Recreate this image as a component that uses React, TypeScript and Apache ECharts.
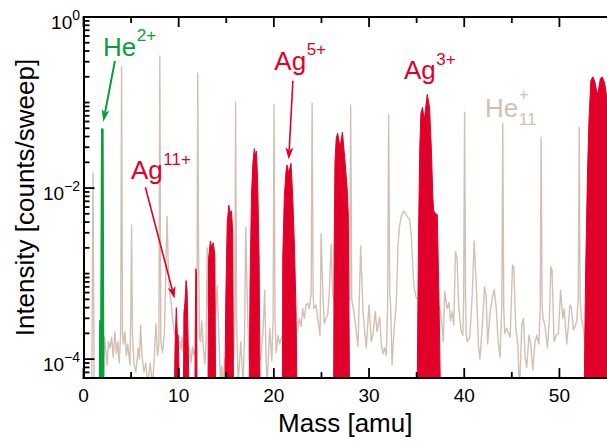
import React, { useEffect, useRef } from "react";
import * as echarts from "echarts";

// ---------------- data ----------------
const X_MIN = 0;
const X_MAX = 55;
const Y_MIN = 6e-5;
const Y_MAX = 1;

const xMajorTicks = [0, 10, 20, 30, 40, 50];
const xMinorTicks = [5, 15, 25, 35, 45];
const yLabelValues = [1e-4, 1e-2, 1];
const yMinorTicks = [
  7e-5, 8e-5, 9e-5,
  2e-4, 3e-4, 4e-4, 5e-4, 6e-4, 7e-4, 8e-4, 9e-4, 1e-3,
  2e-3, 3e-3, 4e-3, 5e-3, 6e-3, 7e-3, 8e-3, 9e-3,
  2e-2, 3e-2, 4e-2, 5e-2, 6e-2, 7e-2, 8e-2, 9e-2, 1e-1,
  2e-1, 3e-1, 4e-1, 5e-1, 6e-1, 7e-1, 8e-1, 9e-1,
];

// background (He clusters + residual gas), [mass, intensity]
const bg0to10 = [
  [0.86, 4e-5], [1.0, 0.015], [1.12, 4e-5], [1.9, 4e-5], [2.1, 6e-5], [2.22, 1.8e-4], [2.36, 1.2e-4],
  [2.5, 8.5e-5], [2.62, 1.6e-4], [2.78, 1.35e-4], [2.96, 1.8e-4], [3.12, 1.05e-4], [3.3, 2.1e-4],
  [3.45, 1.15e-4], [3.6, 1.6e-4], [3.75, 9e-5], [3.9, 1.9e-4], [4.0, 0.26], [4.1, 2e-4], [4.2, 1.5e-4],
  [4.35, 2.1e-4], [4.5, 1.1e-4], [4.65, 1.5e-4], [4.88, 8.5e-5], [4.96, 3e-4], [5.05, 0.0037],
  [5.14, 2e-4], [5.3, 9e-5], [5.5, 7e-5], [5.75, 1.35e-4], [5.88, 1e-4], [6.0, 2.5e-4], [6.15, 1.1e-4],
  [6.35, 7e-5], [6.55, 9e-5], [6.75, 5e-5], [7.0, 9e-5], [7.25, 5e-5], [7.45, 1.1e-4], [7.61, 2.6e-4],
  [7.78, 1.1e-4], [7.92, 1.5e-4], [8.02, 0.35], [8.12, 1.6e-4], [8.3, 1.2e-4], [8.5, 2e-4],
  [8.68, 1.5e-3], [8.78, 0.0047], [8.9, 1.3e-3], [9.05, 6e-4], [9.2, 4.7e-4], [9.35, 3e-4],
  [9.5, 2.2e-4], [9.7, 1.8e-4], [9.9, 1.5e-4],
];
const bg10to20 = [
  [10.1, 1.6e-4], [10.25, 1.3e-4], [10.35, 1.8e-4], [10.5, 1.2e-4], [10.8, 1.5e-4], [11.15, 1.3e-4],
  [11.3, 9e-5], [11.45, 1.4e-4], [11.6, 1.1e-4], [11.85, 1.5e-4], [11.93, 1e-3], [12.0, 0.22],
  [12.1, 1.2e-3], [12.2, 1.8e-4], [12.3, 1.6e-4], [12.43, 2.8e-4], [12.6, 1.3e-4], [12.75, 8.7e-5],
  [12.87, 1.5e-4], [13.0, 2.0e-3], [13.1, 4e-4], [13.5, 3e-4], [13.9, 3.5e-4], [14.04, 7.3e-4],
  [14.25, 1.5e-4], [14.4, 5e-5], [14.53, 8.3e-5], [14.65, 5e-5], [14.85, 1e-4], [15.3, 1.2e-4],
  [15.8, 1.1e-4], [15.9, 3e-4], [15.98, 0.1], [16.08, 3e-4], [16.25, 5e-5], [16.53, 1.6e-4],
  [16.77, 5e-5], [16.92, 2e-4], [17.05, 3.5e-3], [17.23, 3.6e-4], [17.4, 1e-4], [18.0, 1e-4],
  [18.6, 1e-4], [18.85, 2e-4], [19.04, 6.4e-4], [19.18, 1e-4], [19.29, 5e-5], [19.45, 1.2e-4],
  [19.57, 2.3e-4], [19.78, 9.5e-5], [19.92, 3e-4], [20.02, 0.095], [20.12, 3e-4], [20.25, 1.2e-4],
  [20.44, 1.9e-4], [20.6, 1.5e-4], [20.8, 1.8e-4],
];
const bg20to30 = [
  [21.0, 2e-4], [22.0, 2e-4], [22.5, 2.2e-4], [22.68, 3e-4], [22.86, 2.4e-4], [23.03, 3.9e-4],
  [23.2, 3e-4], [23.37, 4.3e-4], [23.56, 4.5e-4], [23.73, 3.9e-4], [23.92, 6e-4], [24.02, 0.098],
  [24.12, 6e-4], [24.19, 3.9e-4], [24.43, 4.3e-4], [24.6, 3e-4], [24.85, 1.9e-4], [24.96, 2.9e-3],
  [25.13, 6.8e-4], [25.3, 2.6e-4], [25.48, 3e-4], [25.66, 3.3e-4], [25.83, 6.2e-4], [26.02, 2.2e-3],
  [26.18, 5.6e-4], [26.5, 4e-4], [27.5, 4e-4], [27.96, 5e-4], [28.07, 0.093], [28.18, 5e-4],
  [28.38, 3.7e-4], [28.66, 2.1e-4], [28.84, 1.4e-4], [29.12, 2.1e-3], [29.36, 3.7e-4], [29.55, 2e-4],
  [29.71, 1.35e-4], [29.99, 4.3e-4],
];
const bg30to40 = [
  [30.24, 1.6e-4], [30.41, 1.95e-4], [30.66, 3.6e-4], [30.83, 2.1e-4], [31.11, 3.1e-4], [31.29, 1.5e-4],
  [31.46, 1.15e-4], [31.64, 1.35e-4], [31.81, 1.1e-4], [31.95, 4e-4], [32.06, 0.072], [32.17, 6e-4],
  [32.27, 4.3e-4], [32.42, 8.5e-5], [32.62, 2.1e-4], [32.87, 4.7e-4], [33.04, 2.1e-3], [33.2, 3.6e-3],
  [33.39, 4.7e-3], [33.63, 5.4e-3], [33.8, 5.1e-3], [33.98, 4.7e-3], [34.26, 4.3e-3], [34.44, 2.8e-3],
  [34.6, 1.2e-3], [34.71, 7.2e-4], [34.89, 5.6e-4], [35.0, 5.1e-4], [36.0, 5e-4], [37.4, 4e-4],
  [37.5, 3.6e-4], [37.65, 2.6e-4], [37.8, 1.6e-4], [37.95, 6.2e-4], [38.2, 3.9e-4], [38.39, 4.6e-4],
  [38.56, 2.8e-4], [38.74, 3.6e-4], [38.9, 2.5e-4], [39.08, 1.8e-3], [39.24, 1.5e-3], [39.43, 4e-4],
  [39.65, 2.2e-4], [39.85, 1.9e-4], [39.94, 5e-4],
];
const bg40to55 = [
  [40.04, 0.077], [40.14, 5e-4], [40.2, 2e-4], [40.32, 1.6e-4], [40.58, 1.8e-4], [40.84, 5.6e-4],
  [41.04, 2.4e-3], [41.3, 6e-4], [41.5, 1.4e-4], [41.65, 1e-4], [41.95, 3e-4], [42.13, 7e-4],
  [42.3, 5.6e-4], [42.46, 1.5e-4], [42.68, 3.2e-4], [42.92, 5e-4], [43.15, 6.5e-4], [43.36, 4e-4],
  [43.57, 1.6e-4], [43.76, 1.05e-4], [43.95, 4e-4], [44.05, 0.057], [44.15, 4e-4], [44.25, 2e-4],
  [44.47, 2.3e-4], [44.65, 2e-4], [44.83, 1.8e-4], [45.07, 1.25e-3], [45.2, 1.2e-3], [45.42, 2.3e-4],
  [45.63, 1.5e-4], [45.8, 4e-5], [46.05, 2.5e-4], [46.22, 3e-4], [46.4, 1.05e-4], [46.57, 8e-5],
  [46.8, 1.9e-4], [46.99, 1.5e-4], [47.2, 7.5e-5], [47.45, 1.6e-4], [47.62, 1.9e-4], [47.85, 1.5e-4],
  [47.98, 4e-4], [48.08, 0.039], [48.18, 4e-4], [48.3, 3e-4], [48.5, 2.4e-4], [48.74, 1.35e-4],
  [48.95, 3e-4], [49.1, 1.2e-3], [49.22, 1.1e-3], [49.44, 1.6e-4], [49.66, 1.9e-4], [49.9, 2e-4],
  [50.12, 6.4e-4], [50.35, 3e-4], [50.5, 3.9e-4], [50.77, 1.5e-4], [50.95, 2.5e-4], [51.1, 4.3e-4],
  [51.25, 4e-4], [51.47, 2.2e-4], [51.65, 2.4e-4], [51.82, 2.8e-4], [51.98, 5e-4], [52.08, 0.051],
  [52.18, 5e-4], [52.3, 3e-4], [52.52, 2.3e-4], [52.7, 1.5e-4], [53.5, 1.5e-4], [55, 1.5e-4],
];

// He2+
const he2 = [[1.68, 4e-5], [1.72, 2.8e-4], [1.83, 2.9e-4], [1.92, 0.049], [2.04, 0.049], [2.12, 4e-5]];

// Ag charge states (107Ag / 109Ag doublets)
const ag11 = [[9.55, 4e-5], [9.62, 1.5e-4], [9.75, 4e-4], [9.85, 2e-4], [9.95, 1.9e-4], [10.03, 8e-5], [10.1, 4e-5]];
const ag10 = [[10.5, 4e-5], [10.55, 3.5e-4], [10.65, 4.5e-4], [10.78, 8.3e-4], [10.88, 6.5e-4], [10.98, 2e-4], [11.08, 4e-5]];
const ag9 = [[11.7, 4e-5], [11.74, 2e-4], [11.8, 1.14e-3], [11.87, 1.0e-3], [11.93, 4e-5]];
const ag8 = [[13.08, 4e-5], [13.14, 1.5e-3], [13.33, 2.4e-3], [13.47, 2.0e-3], [13.62, 2.3e-3], [13.8, 1.7e-3], [13.88, 4e-5]];
const ag7 = [[14.85, 4e-5], [14.95, 5e-4], [15.1, 4e-3], [15.27, 6.3e-3], [15.4, 5.2e-3], [15.55, 5.4e-3], [15.68, 3e-3], [15.76, 4e-5]];
const ag6 = [[17.4, 4e-5], [17.5, 8e-4], [17.65, 0.0085], [17.8, 0.02], [17.95, 0.029], [18.07, 0.024], [18.17, 0.027], [18.3, 0.012], [18.45, 1.5e-3], [18.55, 4e-5]];
const ag5 = [[20.9, 4e-5], [20.93, 1.5e-3], [21.1, 8e-3], [21.28, 0.016], [21.39, 0.0186], [21.56, 0.015], [21.8, 0.0195], [21.98, 0.008], [22.16, 2.1e-3], [22.33, 3.6e-4], [22.43, 4e-5]];
const ag4 = [[26.28, 4e-5], [26.33, 2e-3], [26.42, 0.02], [26.55, 0.038], [26.7, 0.044], [26.95, 0.03], [27.2, 0.045], [27.44, 0.023], [27.7, 0.01], [27.82, 5e-3], [27.95, 4e-5]];
const ag3 = [[35.05, 4e-5], [35.2, 3e-3], [35.33, 0.03], [35.45, 0.075], [35.62, 0.088], [35.8, 0.062], [36.12, 0.125], [36.36, 0.087], [36.54, 0.03], [36.7, 0.008], [36.78, 5.5e-3], [36.98, 5e-3], [37.17, 4.9e-3], [37.34, 5.6e-4], [37.5, 4e-5]];
const ag2 = [[52.6, 4e-5], [52.75, 1e-3], [52.95, 0.015], [53.1, 0.06], [53.3, 0.18], [53.5, 0.2], [53.7, 0.18], [53.95, 0.13], [54.05, 0.13], [54.3, 0.19], [54.5, 0.2], [54.75, 0.17], [55.0, 0.11]];

// ---------------- styles ----------------
const FONT = '"Liberation Sans", Arial, Helvetica, sans-serif';
const RED = "#e1002a";
const GREEN = "#0a9e3c";
const TAN = "#d3c0b2";

const annotations = [
  { base: "He", sup: "2+", sub: "", at: [2.05, 0.351], color: GREEN },
  { base: "Ag", sup: "11+", sub: "", at: [4.99, 0.01273], color: RED },
  { base: "Ag", sup: "5+", sub: "", at: [20.05, 0.243], color: RED },
  { base: "Ag", sup: "3+", sub: "", at: [33.67, 0.1864], color: RED },
  { base: "He", sup: "+", sub: "11", at: [42.18, 0.0676], color: TAN },
];
const arrows = [
  { from: [3.3, 0.306], to: [2.08, 0.0598], color: GREEN, width: 2 },
  { from: [6.5, 0.0102], to: [9.57, 5.1e-4], color: RED, width: 1.6 },
  { from: [22.0, 0.18], to: [21.56, 0.0216], color: RED, width: 1.6 },
];

const MAJOR_LEN = 10;
const MINOR_LEN = 6;

export default function App() {
  const ref = useRef<HTMLDivElement>(null);

  useEffect(() => {
    if (!ref.current) return;
    const chart = echarts.init(ref.current, null, { renderer: "svg" });

    const axisLineStyle = { color: "#000", width: 2 };
    const agPeaks = [ag11, ag10, ag9, ag8, ag7, ag6, ag5, ag4, ag3, ag2];

    const option: any = {
      animation: false,
      backgroundColor: "#fff",
      grid: { left: 83.5, right: 0, top: 17, bottom: 57.5, containLabel: false },
      xAxis: [
        {
          type: "value",
          min: X_MIN,
          max: X_MAX,
          position: "bottom",
          splitLine: { show: false },
          axisLine: { show: true, onZero: false, lineStyle: axisLineStyle },
          axisTick: { show: false },
          axisLabel: { show: true, customValues: xMajorTicks, fontSize: 19, color: "#000", fontFamily: FONT, margin: 8 },
          name: "Mass [amu]",
          nameLocation: "middle",
          nameGap: 28,
          nameTextStyle: { fontSize: 26, fontFamily: FONT, color: "#000" },
          z: 5,
        },
        {
          type: "value",
          min: X_MIN,
          max: X_MAX,
          position: "top",
          splitLine: { show: false },
          axisLine: { show: true, onZero: false, lineStyle: axisLineStyle },
          axisTick: { show: false },
          axisLabel: { show: false },
          z: 5,
        },
      ],
      yAxis: [
        {
          type: "log",
          logBase: 10,
          min: Y_MIN,
          max: Y_MAX,
          position: "left",
          splitLine: { show: false },
          axisLine: { show: true, onZero: false, lineStyle: axisLineStyle },
          axisTick: { show: false },
          axisLabel: {
            show: true,
            customValues: yLabelValues,
            margin: 3.5,
            formatter: (v: number) => {
              const e = Math.round(Math.log10(v));
              return `{b|10}{s|${e < 0 ? "\u2212" + -e : e}}`;
            },
            rich: {
              b: { fontSize: 19, fontFamily: FONT, color: "#000", lineHeight: 30, verticalAlign: "bottom" },
              s: { fontSize: 14, fontFamily: FONT, color: "#000", lineHeight: 14, verticalAlign: "top", padding: [5.5, 0, 0, 0] },
            },
          },
          name: "Intensity [counts/sweep]",
          nameLocation: "middle",
          nameGap: 46,
          nameMoveOverlap: false,
          nameTextStyle: { fontSize: 26, fontFamily: FONT, color: "#000" },
          z: 5,
        },
      ],
      series: [
        {
          type: "line",
          data: [...bg0to10, ...bg10to20, ...bg20to30, ...bg30to40, ...bg40to55],
          showSymbol: false,
          symbol: "none",
          lineStyle: { color: TAN, width: 1.4, join: "round" },
          clip: true,
          silent: true,
          z: 2,
        },
        ...agPeaks.map((d) => ({
          type: "line",
          data: d,
          showSymbol: false,
          symbol: "none",
          lineStyle: { color: RED, width: 1 },
          areaStyle: { color: RED, opacity: 1, origin: "start" },
          clip: true,
          silent: true,
          z: 3,
        })),
        {
          type: "line",
          data: he2,
          showSymbol: false,
          symbol: "none",
          lineStyle: { color: GREEN, width: 1.5 },
          areaStyle: { color: GREEN, opacity: 1, origin: "start" },
          clip: true,
          silent: true,
          z: 3,
        },
      ],
    };

    chart.setOption(option);

    const toPx = (p: number[]) =>
      chart.convertToPixel({ xAxisIndex: 0, yAxisIndex: 0 } as any, p) as unknown as number[];

    const graphic: any[] = [];

    // ---- tick marks, positioned through the axes' scales ----
    const [gLeft, gBottom] = toPx([X_MIN, Y_MIN]);
    const [, gTop] = toPx([X_MIN, Y_MAX]);
    const tickLine = (x1: number, y1: number, x2: number, y2: number) => ({
      type: "line",
      silent: true,
      z: 90,
      shape: { x1, y1, x2, y2 },
      style: { stroke: "#000", lineWidth: 1.8 },
    });
    const xTick = (v: number, len: number) => {
      const x = toPx([v, Y_MAX])[0];
      graphic.push(tickLine(x, gBottom, x, gBottom - len));
      graphic.push(tickLine(x, gTop, x, gTop + len));
    };
    xMajorTicks.forEach((v) => xTick(v, MAJOR_LEN));
    xMinorTicks.forEach((v) => xTick(v, MINOR_LEN));
    const yTick = (v: number, len: number) => {
      const y = toPx([X_MIN, v])[1];
      graphic.push(tickLine(gLeft, y, gLeft + len, y));
    };
    yLabelValues.forEach((v) => yTick(v, MAJOR_LEN + 1));
    yMinorTicks.forEach((v) => yTick(v, MINOR_LEN));

    // ---- annotations ----
    const ctx = document.createElement("canvas").getContext("2d")!;
    const measure = (t: string, size: number) => {
      ctx.font = `${size}px ${FONT}`;
      return ctx.measureText(t).width;
    };

    const BASE = 26;
    const SUP = 17;
    const txt = (text: string, x: number, baseline: number, size: number, color: string) => ({
      type: "text",
      silent: true,
      z: 100,
      style: {
        text,
        x,
        y: baseline - 0.3465 * size,
        fill: color,
        fontSize: size,
        fontFamily: FONT,
        align: "left",
        textAlign: "left",
        verticalAlign: "middle",
        textVerticalAlign: "middle",
      },
    });

    annotations.forEach((a) => {
      const [x, y] = toPx(a.at);
      graphic.push(txt(a.base, x, y, BASE, a.color));
      const sx = x + measure(a.base, BASE) + 0.5;
      if (a.sub) {
        graphic.push(txt(a.sup, sx, y - 16.7, SUP, a.color));
        graphic.push(txt(a.sub, sx, y + 8.6, SUP, a.color));
      } else {
        graphic.push(txt(a.sup, sx, y - 14, SUP, a.color));
      }
    });

    arrows.forEach((ar) => {
      const a = toPx(ar.from);
      const b = toPx(ar.to);
      const dx = b[0] - a[0];
      const dy = b[1] - a[1];
      const L = Math.hypot(dx, dy);
      const ux = dx / L;
      const uy = dy / L;
      const headLen = 12;
      const headHalf = 4;
      const notch = 3;
      const nx = -uy;
      const ny = ux;
      const back = [b[0] - ux * headLen, b[1] - uy * headLen];
      const left = [back[0] + nx * headHalf, back[1] + ny * headHalf];
      const right = [back[0] - nx * headHalf, back[1] - ny * headHalf];
      const np = [b[0] - ux * (headLen - notch), b[1] - uy * (headLen - notch)];
      graphic.push({
        type: "line",
        silent: true,
        z: 100,
        shape: { x1: a[0], y1: a[1], x2: np[0], y2: np[1] },
        style: { stroke: ar.color, lineWidth: ar.width },
      });
      graphic.push({
        type: "polygon",
        silent: true,
        z: 100,
        shape: { points: [b, left, np, right] },
        style: { fill: ar.color },
      });
    });

    chart.setOption({ graphic });

    return () => {
      chart.dispose();
    };
  }, []);

  return (
    <div
      ref={ref}
      style={{ position: "absolute", left: 0, top: 0, width: 607, height: 441, background: "#fff" }}
    />
  );
}
